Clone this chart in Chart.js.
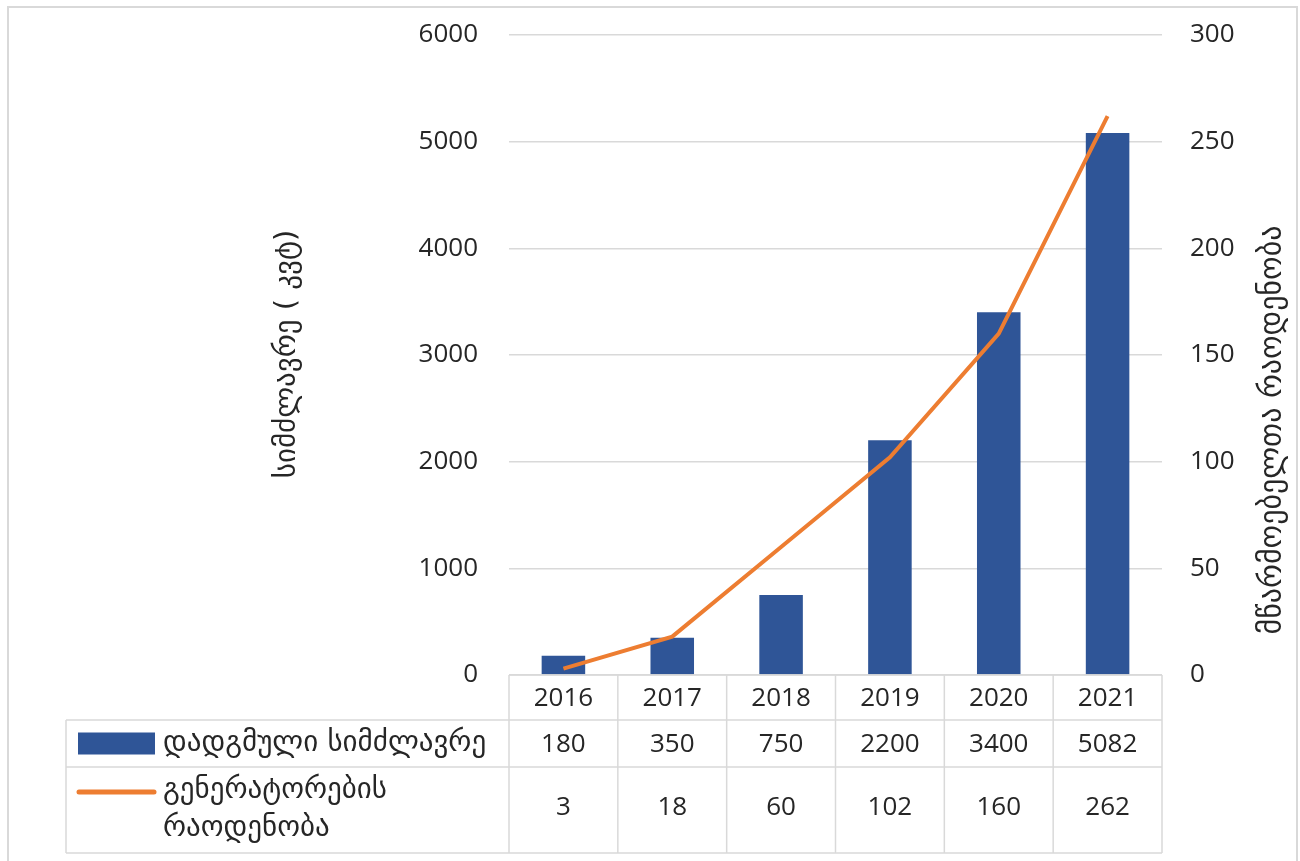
<!DOCTYPE html>
<html>
<head>
<meta charset="utf-8">
<script src="https://cdn.jsdelivr.net/npm/chart.js@4/dist/chart.umd.min.js"></script>
<style>
  html, body { margin: 0; padding: 0; background: #fff; }
  #wrap { width: 1300px; height: 861px; position: relative; }
</style>
</head>
<body>
<div id="wrap"><canvas id="c" width="1300" height="861"></canvas></div>
<script>
// Installed capacity (kW) and number of generators per year
const years = ['2016', '2017', '2018', '2019', '2020', '2021'];
const capacity = [180, 350, 750, 2200, 3400, 5082];
const generators = [3, 18, 60, 102, 160, 262];

const capacityLabel = 'დადგმული სიმძლავრე';
const generatorLabel = ['გენერატორების', 'რაოდენობა'];
const leftTitle = 'სიმძლავრე ( კვტ)';
const rightTitle = 'მწარმოებელთა რაოდენობა';

const leftMax = 6000, leftStep = 1000;
const rightMax = 300, rightStep = 50;

const BLUE = '#2F5597';
const ORANGE = '#ED7D31';
const GRID = '#d9d9d9';
const TEXT = '#262626';
const NUM_FONT = '"Open Sans", "DejaVu Sans", sans-serif';
const GEO_FONT = '"DejaVu Sans", sans-serif';

// Draws the data table under the plot, the axis titles and the outer frame
const tablePlugin = {
  id: 'dataTable',
  afterDraw(chart) {
    const { ctx, chartArea: a, scales: { x } } = chart;
    const n = years.length;
    const bounds = [a.left];
    for (let i = 0; i < n - 1; i++) {
      bounds.push((x.getPixelForValue(i) + x.getPixelForValue(i + 1)) / 2);
    }
    bounds.push(a.right);

    const tableLeft = 66;
    const r0 = a.bottom, r1 = r0 + 45, r2 = r1 + 47, r3 = r2 + 86;

    ctx.save();
    ctx.strokeStyle = GRID;
    ctx.lineWidth = 1.5;
    const line = (x1, y1, x2, y2) => { ctx.beginPath(); ctx.moveTo(x1, y1); ctx.lineTo(x2, y2); ctx.stroke(); };
    line(a.left, r0, a.right, r0);
    line(tableLeft, r1, a.right, r1);
    line(tableLeft, r2, a.right, r2);
    line(tableLeft, r3, a.right, r3);
    line(tableLeft, r1, tableLeft, r3);
    bounds.forEach(b => line(b, r0, b, r3));

    // year header, values
    ctx.fillStyle = TEXT;
    ctx.textAlign = 'center';
    ctx.textBaseline = 'middle';
    ctx.font = '26px ' + NUM_FONT;
    for (let i = 0; i < n; i++) {
      const cx = x.getPixelForValue(i);
      ctx.fillText(years[i], cx, (r0 + r1) / 2 + 1);
      ctx.fillText(String(capacity[i]), cx, (r1 + r2) / 2 + 1);
      ctx.fillText(String(generators[i]), cx, (r2 + r3) / 2 - 2);
    }

    // legend keys in the first column
    ctx.fillStyle = BLUE;
    ctx.fillRect(78, (r1 + r2) / 2 - 11, 77, 22);
    ctx.strokeStyle = ORANGE;
    ctx.lineWidth = 5;
    ctx.lineCap = 'round';
    line(79, r2 + 25, 154, r2 + 25);

    ctx.fillStyle = TEXT;
    ctx.textAlign = 'left';
    ctx.font = '29px ' + GEO_FONT;
    ctx.fillText(capacityLabel, 163, (r1 + r2) / 2);
    ctx.fillText(generatorLabel[0], 163, r2 + 23);
    ctx.fillText(generatorLabel[1], 163, r2 + 61);

    // axis titles, both reading bottom to top
    ctx.textAlign = 'center';
    ctx.font = '29px ' + GEO_FONT;
    ctx.save();
    ctx.translate(287, 354);
    ctx.rotate(-Math.PI / 2);
    ctx.fillText(leftTitle, 0, 0);
    ctx.restore();
    ctx.font = '30px ' + GEO_FONT;
    ctx.save();
    ctx.translate(1273, 430);
    ctx.rotate(-Math.PI / 2);
    ctx.fillText(rightTitle, 0, 0);
    ctx.restore();

    // outer frame
    ctx.strokeStyle = GRID;
    ctx.lineWidth = 2;
    ctx.lineCap = 'butt';
    ctx.beginPath();
    ctx.moveTo(8, chart.height);
    ctx.lineTo(8, 7);
    ctx.lineTo(1297, 7);
    ctx.lineTo(1297, chart.height);
    ctx.stroke();
    ctx.restore();
  }
};

const plainTick = v => String(v);

// fixed axis widths; vertical room for the end labels comes from the layout padding
const fixAxis = width => s => {
  s.width = width;
  s.paddingTop = 0;
  s.paddingBottom = 0;
};

function build() {
  new Chart(document.getElementById('c'), {
    data: {
      labels: years,
      datasets: [
        {
          type: 'line',
          label: generatorLabel.join(' '),
          data: generators,
          yAxisID: 'y1',
          borderColor: ORANGE,
          borderWidth: 4,
          pointRadius: 0,
          tension: 0,
          order: 0
        },
        {
          type: 'bar',
          label: capacityLabel,
          data: capacity,
          yAxisID: 'y',
          backgroundColor: BLUE,
          barPercentage: 0.4,
          categoryPercentage: 1,
          order: 1
        }
      ]
    },
    options: {
      responsive: false,
      animation: false,
      devicePixelRatio: 1,
      layout: { padding: { top: 35, bottom: 186, left: 0, right: 0 } },
      plugins: { legend: { display: false }, tooltip: { enabled: false } },
      scales: {
        x: { display: false, offset: true },
        y: {
          position: 'left',
          min: 0, max: leftMax,
          ticks: { stepSize: leftStep, padding: 31, color: TEXT, callback: plainTick, font: { family: NUM_FONT, size: 26 } },
          grid: { color: GRID, lineWidth: 1.5, drawTicks: false },
          border: { display: false },
          afterFit: fixAxis(509)
        },
        y1: {
          position: 'right',
          min: 0, max: rightMax,
          ticks: { stepSize: rightStep, padding: 28, color: TEXT, callback: plainTick, font: { family: NUM_FONT, size: 26 } },
          grid: { display: false, drawTicks: false },
          border: { display: false },
          afterFit: fixAxis(138)
        }
      }
    },
    plugins: [tablePlugin]
  });
}

Promise.all([
  document.fonts.load('26px "Open Sans"'),
  document.fonts.load('24px "DejaVu Sans"')
]).then(build, build);
</script>
</body>
</html>
